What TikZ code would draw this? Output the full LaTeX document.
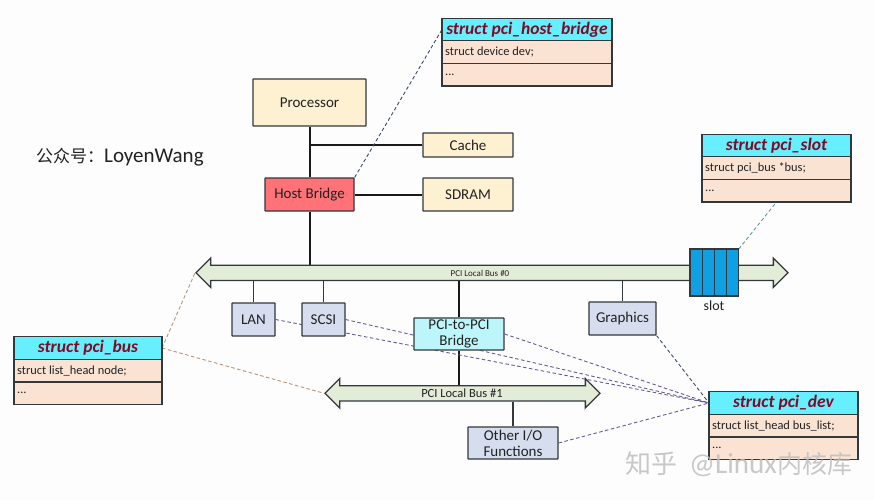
\documentclass[tikz,border=0pt]{standalone}
\usepackage{fontspec}
\setmainfont{Carlito}
\newfontfamily\cjkf{Noto Sans CJK SC}
\usetikzlibrary{shapes.arrows}
\definecolor{paper}{HTML}{FDFDFD}
\definecolor{edge}{HTML}{33383C}
\definecolor{cream}{HTML}{FDF1D2}
\definecolor{redfill}{HTML}{FF7378}
\definecolor{steel}{HTML}{D6DDEE}
\definecolor{aqua}{HTML}{BDF6FA}
\definecolor{headfill}{HTML}{66F0FF}
\definecolor{bodyfill}{HTML}{FBE3D4}
\definecolor{titlecol}{HTML}{820A26}
\definecolor{busfill}{HTML}{E3ECD6}
\definecolor{slotfill}{HTML}{0EA0E2}
\definecolor{txt}{HTML}{222222}
\definecolor{purpledash}{HTML}{6A5A96}
\definecolor{tandash}{HTML}{B89478}
\definecolor{tealdash}{HTML}{5F9AA0}
\definecolor{navydash}{HTML}{3D4A66}
\pgfdeclarelayer{under}
\pgfsetlayers{under,main}
\tikzset{
  x=1pt,y=-1pt,
  boxed/.style={draw=edge,line width=1.2pt,inner sep=0pt,text=txt,align=center,font=\fontsize{15}{16}\selectfont,rounded corners=0.5pt},
  cpu/.style={boxed,fill=cream},
  dev/.style={boxed,fill=steel},
  busarrow/.style={shape=double arrow,draw=edge,line width=1.3pt,fill=busfill,inner xsep=0pt,inner ysep=7pt,
    double arrow head extend=7pt,double arrow tip angle=90,minimum width=28pt},
  buslabel/.style={inner sep=0pt,text=txt},
  slotcell/.style={draw=edge,line width=1.2pt,fill=slotfill,minimum width=12.2pt,minimum height=47pt,inner sep=0pt,outer sep=0pt},
  bigwire/.style={line width=2pt,draw=black!90},
  thinwire/.style={line width=1.4pt,draw=edge},
  dashline/.style={line width=0.9pt,dash pattern=on 3.5pt off 2.5pt},
  structhead/.style={draw=edge,line width=1.2pt,fill=headfill,minimum height=22.6pt,inner sep=0pt,outer sep=0pt,text=titlecol,
    font=\fontsize{17.5}{18}\selectfont\bfseries\itshape},
  structbody/.style={draw=edge,line width=1.2pt,fill=bodyfill,minimum height=22.6pt,inner sep=0pt,outer sep=0pt,text=txt,align=left},
  structtext/.style={anchor=west,inner sep=0pt,text=txt,font=\fontsize{12.4}{14}\selectfont},
}
\newcommand{\structbox}[6]{%
  \node[structhead,minimum width=#4pt] (#1) at (#2,#3) {#5};
  \node[structbody,minimum width=#4pt,anchor=north] (#1-f) at (#1.south) {};
  \node[structbody,minimum width=#4pt,anchor=north] (#1-e) at (#1-f.south) {};
  \node[structtext] (#1-ft) at ([xshift=3pt]#1-f.west) {#6};
  \node[structtext] (#1-et) at ([xshift=3pt]#1-e.west) {...};
}
\begin{document}
\begin{tikzpicture}
\useasboundingbox (0,0) rectangle (874,500);

\node[cpu,minimum width=113pt,minimum height=47pt] (proc) at (309.5,102.5) {Processor};
\node[cpu,minimum width=90pt,minimum height=24pt] (cache) at (468,145) {Cache};
\node[boxed,fill=redfill,minimum width=89pt,minimum height=33pt] (hostb) at (309.5,194.5) {Host Bridge};
\node[cpu,minimum width=90pt,minimum height=33pt] (sdram) at (468,194.5) {SDRAM};

\node[busarrow,minimum height=592pt] (bus0) at (492,272.8) {};
\node[buslabel,font=\fontsize{9}{12}\selectfont] (bus0t) at (480,273) {PCI Local Bus \#0};
\node[busarrow,minimum height=275pt] (bus1) at (462.5,393.3) {};
\node[buslabel,font=\fontsize{12.5}{14}\selectfont] (bus1t) at (462,393) {PCI Local Bus \#1};

\node[slotcell] (slot1) at (696.1,272.5) {};
\node[slotcell] (slot2) at (708.3,272.5) {};
\node[slotcell] (slot3) at (720.5,272.5) {};
\node[slotcell] (slot4) at (732.7,272.5) {};
\node[inner sep=0pt,text=txt,font=\fontsize{14}{15}\selectfont] (slotl) at (714,306) {slot};

\node[dev,minimum width=43pt,minimum height=33pt] (lan) at (253.5,319.5) {LAN};
\node[dev,minimum width=43pt,minimum height=33pt] (scsi) at (323.5,319.5) {SCSI};
\node[boxed,fill=aqua,minimum width=90pt,minimum height=32pt] (bridge) at (459,334) {PCI-to-PCI\\Bridge};
\node[dev,minimum width=67pt,minimum height=33pt] (gfx) at (622.5,318.5) {Graphics};
\node[dev,minimum width=90pt,minimum height=32pt] (other) at (513,443) {Other I/O\\Functions};

\structbox{shb}{527}{29.5}{170}{struct pci\_host\_bridge}{struct device dev;}
\structbox{sslot}{776.5}{145.5}{149}{struct pci\_slot}{struct pci\_bus *bus;}
\structbox{sdev}{783.5}{403}{149}{struct pci\_dev}{struct list\_head bus\_list;}
\structbox{sbus}{88}{348}{148}{struct pci\_bus}{struct list\_head node;}

\begin{pgfonlayer}{under}
  \fill[paper] (0,0) rectangle (874,500);
  \draw[bigwire] (proc.south) -- (hostb.north);
  \draw[bigwire] (hostb.south) -- (hostb.south|-bus0.north);
  \draw[bigwire] (cache.west) -- (cache.west-|proc.south);
  \draw[bigwire] (hostb.east) -- (sdram.west);
  \draw[bigwire] (bridge.north) -- (bridge.north|-bus0.south);
  \draw[bigwire] (bridge.south) -- (bridge.south|-bus1.north);
  \draw[thinwire] (lan.north) -- (lan.north|-bus0.south);
  \draw[thinwire] (scsi.north) -- (scsi.north|-bus0.south);
  \draw[thinwire] (gfx.north) -- (gfx.north|-bus0.south);
  \draw[thinwire] (other.north) -- (other.north|-bus1.south);
  \draw[dashline,navydash] (hostb.north east) -- (shb.west);
  \draw[dashline,tealdash] (slot4.north east) -- (sslot-e.south);
  \draw[dashline,tandash] (sbus.east) -- (bus0.west);
  \draw[dashline,tandash] (sbus.east) -- (bus1.west);
  \draw[dashline,purpledash] (lan.east) -- (sdev.west);
  \draw[dashline,purpledash] (scsi.east) -- (sdev.west);
  \draw[dashline,purpledash] (bridge.east) -- (sdev.west);
  \draw[dashline,navydash] (gfx.south east) -- (sdev.west);
  \draw[dashline,purpledash] (other.east) -- (sdev.west);
\end{pgfonlayer}

\node[anchor=west,inner sep=0pt,text=txt,font=\fontsize{21}{22}\selectfont] (wechat) at (36,157) {{\cjkf\fontsize{17}{20}\selectfont 公众号：}LoyenWang};
\node[anchor=west,inner sep=0pt,text=gray!50,opacity=0.85,font=\fontsize{29}{30}\selectfont] (mark) at (625,464) {{\cjkf\fontsize{26}{30}\selectfont 知乎}\hspace{12pt}@Linux{\cjkf\fontsize{25}{30}\selectfont 内核库}};
\end{tikzpicture}
\end{document}
